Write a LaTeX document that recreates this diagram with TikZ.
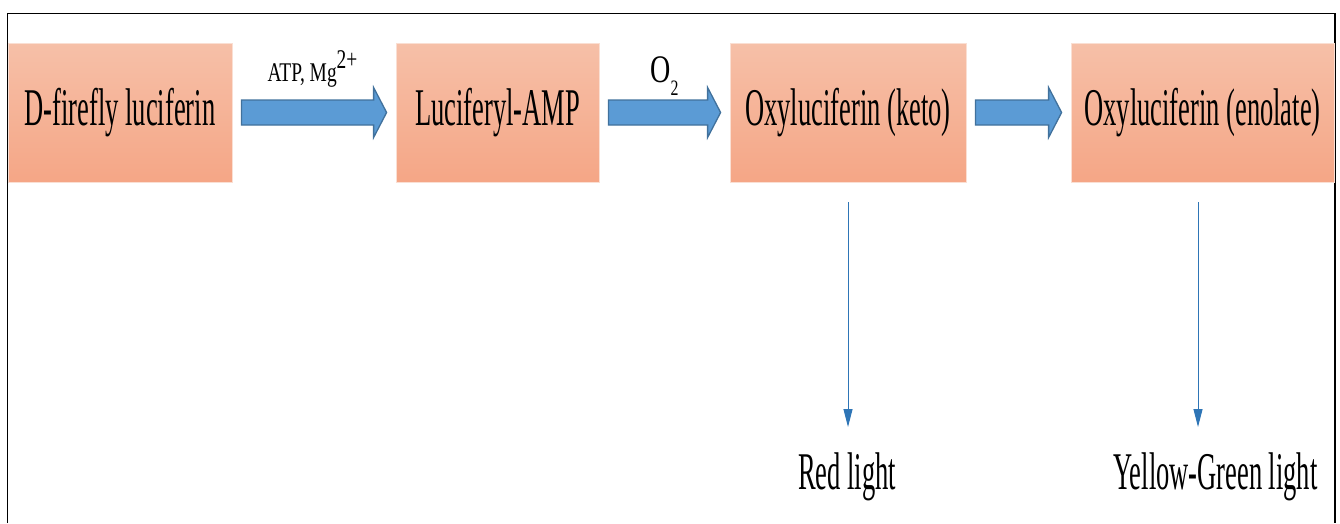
\documentclass[tikz,border=0pt]{standalone}
\usepackage{fontspec}
\usetikzlibrary{calc,arrows.meta}
\newfontfamily\boxfont[FakeStretch=0.5]{Liberation Serif}
\newfontfamily\labfont[FakeStretch=0.72]{Liberation Serif}
\definecolor{boxtop}{RGB}{246,192,168}
\definecolor{boxbot}{RGB}{245,166,134}
\definecolor{arrfill}{RGB}{91,155,213}
\definecolor{arrline}{RGB}{65,113,156}
\definecolor{thinblue}{RGB}{46,117,182}
\tikzset{
  stepbox/.style={top color=boxtop, bottom color=boxbot, draw=boxtop!50!white, line width=0.8pt,
    inner sep=0pt, minimum height=139pt, font=\boxfont\fontsize{53}{60}\selectfont},
  blockarr/.style={fill=arrfill, draw=arrline, line width=1.3pt, line join=miter},
  lightarr/.style={draw=thinblue, line width=1pt, -{Triangle[length=18pt,width=9pt]}},
  lighttext/.style={font=\boxfont\fontsize{53}{60}\selectfont, inner sep=0pt, anchor=base},
}
\begin{document}
\begin{tikzpicture}[x=1pt,y=-1pt]
\useasboundingbox (0,0) rectangle (1340,523);
\draw[line width=1.6pt] (7.5,523) -- (7.5,13.5) -- (1335,13.5) -- (1335,523);
% reaction steps
\node[stepbox, minimum width=224pt] (luc) at (120,112.5) {D-firefly luciferin};
\node[stepbox, minimum width=203pt] (amp) at (497.5,112.5) {Luciferyl-AMP};
\node[stepbox, minimum width=236pt] (keto) at (848,112.5) {Oxyluciferin (keto)};
\node[stepbox, minimum width=263pt] (enol) at (1202.5,112.5) {Oxyluciferin (enolate)};
% block arrows
\foreach \a/\b in {luc/amp,amp/keto,keto/enol}
  \filldraw[blockarr] ($(\a.east)+(9,-12.5)$) -- ($(\b.west)+(-22,-12.5)$) -- ($(\b.west)+(-22,-25)$)
    -- ($(\b.west)+(-9,0)$) -- ($(\b.west)+(-22,25)$) -- ($(\b.west)+(-22,12.5)$)
    -- ($(\a.east)+(9,12.5)$) -- cycle;
\node[anchor=base, inner sep=0pt, font=\labfont\fontsize{27}{30}\selectfont] (atp) at (312.5,81) {ATP, Mg\raisebox{13pt}{2+}};
\node[anchor=base, inner sep=0pt, font=\labfont] (oxy) at (664.5,82) {\fontsize{39}{42}\selectfont O\raisebox{-13pt}{\fontsize{22}{24}\selectfont 2}};
% emitted light
\node[lighttext] (red) at (847,489) {Red light};
\node[lighttext] (yg) at (1215.5,489) {Yellow-Green light};
\coordinate (k1) at ($(keto.south)+(0,20)$);
\coordinate (k2) at ($(enol.south)+(-4.5,20)$);
\draw[lightarr, shorten >=25pt] (k1) -- (k1 |- red.north);
\draw[lightarr, shorten >=25pt] (k2) -- (k2 |- yg.north);
\end{tikzpicture}
\end{document}
